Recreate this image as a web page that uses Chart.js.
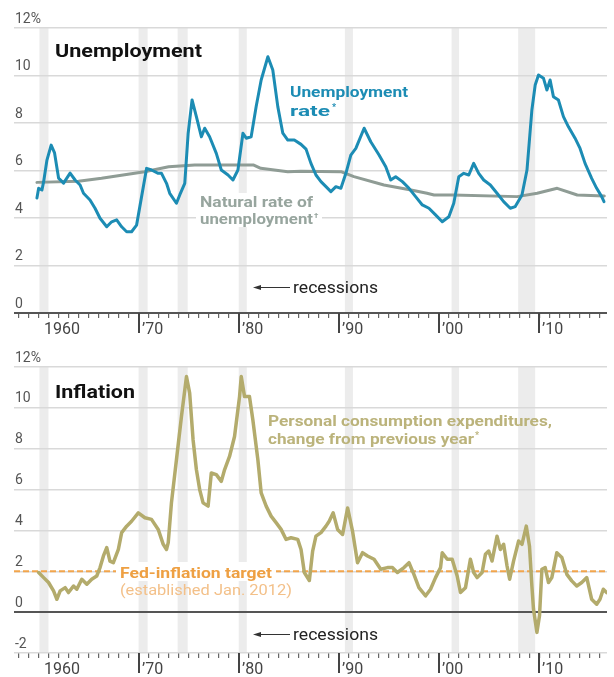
<!DOCTYPE html>
<html><head><meta charset="utf-8">
<script src="https://cdn.jsdelivr.net/npm/chart.js@4"></script>
<style>
html,body{margin:0;padding:0;background:#fff;}
#wrap{position:relative;width:614px;height:677px;overflow:hidden;background:#fff;}
canvas{position:absolute;left:0;}
#c1{top:0;}
#c2{top:340px;}
</style></head><body>
<div id="wrap"><canvas id="c1" width="614" height="340"></canvas><canvas id="c2" width="614" height="337"></canvas></div>
<script>
// ---------- DATA ----------
const unempYears = [1959.85,1960.02,1960.35,1960.52,1960.85,1961.27,1961.61,1962.01,1962.51,1963.16,1963.66,1964.16,1964.5,1965.15,1965.65,1966.15,1966.82,1967.31,1967.81,1968.31,1968.81,1969.3,1969.8,1970.3,1970.8,1971.29,1971.96,1972.29,1972.79,1973.11,1973.78,1974.11,1974.61,1974.95,1975.34,1975.77,1976.27,1976.6,1977.09,1977.76,1978.26,1978.93,1979.42,1979.92,1980.42,1980.75,1981.24,1981.74,1982.24,1982.91,1983.4,1983.9,1984.4,1984.9,1985.55,1986.22,1986.72,1987.21,1987.71,1988.21,1988.71,1989.2,1989.7,1990.2,1990.7,1991.19,1991.69,1992.52,1993.18,1994.01,1994.68,1995.17,1995.67,1996.34,1997.0,1997.66,1998.33,1998.99,1999.65,2000.32,2000.98,2001.47,2001.97,2002.47,2002.97,2003.46,2003.96,2004.46,2005.12,2005.79,2006.45,2007.11,2007.61,2008.28,2008.78,2009.27,2009.6,2009.93,2010.43,2010.77,2011.09,2011.42,2011.92,2012.42,2012.92,2013.58,2014.08,2014.58,2015.24,2015.74,2016.24,2016.47];
const unempValues = [4.84,5.25,5.18,5.53,6.44,7.07,6.74,5.68,5.47,5.89,5.6,5.39,5.04,4.76,4.41,3.99,3.63,3.84,3.92,3.63,3.42,3.42,3.7,4.9,6.09,6.02,5.88,5.88,5.46,5.04,4.62,4.97,5.46,7.57,8.97,8.27,7.42,7.78,7.42,6.72,6.02,5.81,5.6,6.02,7.57,7.36,7.42,8.69,9.81,10.79,10.23,8.69,7.57,7.28,7.28,7.1,6.9,6.3,5.81,5.53,5.32,5.11,5.32,5.25,5.88,6.65,6.93,7.78,7.21,6.65,6.16,5.6,5.74,5.53,5.25,4.9,4.55,4.41,4.13,3.84,4.05,4.62,5.74,5.88,5.81,6.3,5.88,5.6,5.39,5.04,4.69,4.41,4.48,4.97,6.02,8.55,9.6,10.02,9.88,9.39,9.81,9.11,8.97,8.27,7.84,7.36,6.93,6.3,5.67,5.25,4.9,4.69];

const naturalYears = [1959.85,1964.0,1966.3,1970.6,1973.0,1975.6,1981.5,1982.2,1984.9,1986.2,1990.2,1991.5,1994.5,1997.2,1998.8,1999.5,2001.4,2007.8,2009.8,2011.8,2013.8,2016.5];
const naturalValues = [5.5,5.55,5.67,5.95,6.16,6.23,6.23,6.09,5.95,5.97,5.95,5.74,5.39,5.18,5.04,4.97,4.97,4.9,5.04,5.25,4.97,4.93];

const inflYears = [1960.02,1960.52,1961.01,1961.51,1961.84,1962.17,1962.67,1963.0,1963.5,1963.83,1964.33,1964.83,1965.32,1965.82,1966.15,1966.49,1966.82,1967.14,1967.48,1967.98,1968.31,1968.81,1969.3,1969.97,1970.63,1971.29,1971.96,1972.46,1972.79,1972.96,1973.28,1973.78,1974.28,1974.78,1975.1,1975.44,1975.77,1976.1,1976.44,1976.94,1977.26,1977.76,1978.26,1978.59,1979.08,1979.58,1980.08,1980.25,1980.58,1981.07,1981.41,1981.91,1982.24,1982.74,1983.23,1983.73,1984.23,1984.73,1985.22,1985.89,1986.22,1986.55,1987.05,1987.38,1987.71,1988.21,1988.71,1989.03,1989.43,1989.87,1990.37,1990.87,1991.36,1991.86,1992.36,1992.86,1993.51,1994.18,1994.85,1995.34,1995.84,1996.5,1997.0,1997.49,1997.99,1998.66,1999.15,1999.65,2000.15,2000.32,2000.82,2001.31,2001.81,2002.14,2002.64,2003.13,2003.46,2003.8,2004.3,2004.63,2004.96,2005.29,2005.79,2006.12,2006.45,2006.79,2007.05,2007.44,2007.94,2008.28,2008.71,2009.03,2009.27,2009.43,2009.77,2010.03,2010.27,2010.6,2010.93,2011.26,2011.76,2012.26,2012.76,2013.25,2013.75,2014.25,2014.75,2015.24,2015.74,2016.07,2016.4,2016.73];
const inflValues = [1.94,1.69,1.45,1.04,0.63,1.04,1.2,0.96,1.28,1.12,1.61,1.37,1.61,1.77,2.18,2.75,3.16,2.5,2.42,3.07,3.89,4.21,4.45,4.86,4.62,4.54,4.05,3.32,3.07,3.4,5.35,7.46,9.58,11.53,10.72,8.44,6.98,6.0,5.35,5.19,6.81,6.73,6.4,6.98,7.62,8.6,10.55,11.53,10.55,10.55,9.41,7.46,5.84,5.19,4.7,4.38,4.05,3.56,3.64,3.56,3.07,1.94,1.55,2.99,3.72,3.89,4.21,4.45,4.86,4.05,3.8,5.1,3.97,2.42,2.91,2.75,2.59,2.1,2.18,2.18,1.94,2.18,2.42,1.85,1.2,0.8,1.12,1.69,2.18,2.91,2.59,2.59,1.77,0.96,1.2,2.59,1.94,1.69,1.94,2.83,2.99,2.5,3.72,3.07,3.32,2.26,1.61,2.5,3.48,3.32,4.21,3.23,1.28,0.15,-0.99,-0.18,2.1,2.18,1.45,1.69,2.91,2.67,1.85,1.53,1.28,1.45,1.69,0.63,0.39,0.63,1.12,0.96];

const targetYears = [1957.56, 2016.77];
const targetValues = [2, 2];

const recessionStarts = [1960.1,1970.0,1973.9,1980.0,1990.6,2001.25,2007.9];
const recessionEnds   = [1961.0,1970.9,1974.9,1980.8,1991.4,2002.0,2009.6];

const xTickYears  = [1960,1970,1980,1990,2000,2010];
const xTickLabels = ['1960','\u201970','\u201980','\u201990','\u201900','\u201910'];

// ---------- HELPERS ----------
function pts(xs, ys){ return xs.map((x,i)=>({x:x, y:ys[i]})); }

function fitText(ctx, text, x, y, font, color, width){
  ctx.save();
  ctx.font = font; ctx.fillStyle = color; ctx.textAlign='left'; ctx.textBaseline='alphabetic';
  const w = ctx.measureText(text).width;
  ctx.translate(x, y);
  if (width) ctx.scale(width / w, 1);
  ctx.fillText(text, 0, 0);
  ctx.restore();
}
function whiteBox(ctx, x, y, w, h){ ctx.save(); ctx.fillStyle='#fff'; ctx.fillRect(x,y,w,h); ctx.restore(); }
function recessArrow(ctx, y, baseline){
  ctx.save();
  ctx.strokeStyle='#333'; ctx.lineWidth=1;
  ctx.beginPath(); ctx.moveTo(258,y+0.5); ctx.lineTo(290,y+0.5); ctx.stroke();
  ctx.fillStyle='#333';
  ctx.beginPath(); ctx.moveTo(253,y+0.5); ctx.lineTo(261,y-2); ctx.lineTo(261,y+3); ctx.closePath(); ctx.fill();
  ctx.restore();
  fitText(ctx, 'recessions', 293, baseline, '16px Roboto', '#222', 85);
}

const bandsPlugin = {
  id: 'bands',
  beforeDraw(chart){
    const {ctx, chartArea:a, scales:{x}} = chart;
    ctx.save(); ctx.fillStyle = '#ececec';
    recessionStarts.forEach((s,i)=>{
      const x0 = x.getPixelForValue(s), x1 = x.getPixelForValue(recessionEnds[i]);
      ctx.fillRect(x0, a.top, x1-x0, a.bottom-a.top);
    });
    ctx.restore();
  }
};
const decadePlugin = {
  id: 'decades',
  afterDraw(chart){
    const {ctx, chartArea:a, scales:{x}} = chart;
    ctx.save();
    ctx.strokeStyle='#444'; ctx.lineWidth=2;
    ctx.fillStyle='#444'; ctx.font='16px Roboto'; ctx.textBaseline='middle'; ctx.textAlign='left';
    xTickYears.forEach((yr,i)=>{
      const px = Math.round(x.getPixelForValue(yr));
      const lbl = xTickLabels[i];
      if (lbl.length < 4){
        ctx.beginPath(); ctx.moveTo(px, a.bottom); ctx.lineTo(px, a.bottom+20); ctx.stroke();
        ctx.fillText(lbl, px+3, a.bottom+16.5);
      } else {
        ctx.fillText(lbl, px+6, a.bottom+16.5);
      }
    });
    ctx.restore();
  }
};

function baseOptions(yMin, yMax, pad, annot){
  return {
    responsive:false, animation:false, devicePixelRatio:1,
    layout:{padding:pad},
    plugins:{legend:{display:false}, tooltip:{enabled:false}, annot:{}},
    elements:{point:{radius:0}, line:{tension:0, borderJoinStyle:'round', borderCapStyle:'round'}},
    scales:{
      x:{type:'linear', min:1957.56, max:2016.77,
         border:{display:false},
         grid:{display:true, drawOnChartArea:false, drawTicks:true, tickLength:5, color:'#666', lineWidth:1.2},
         ticks:{display:false, stepSize:1, includeBounds:false}},
      y:{min:yMin, max:yMax,
         border:{display:false},
         grid:{drawTicks:false, color:(c)=> c.tick && c.tick.value===0 ? '#555' : '#d9d9d9',
               lineWidth:(c)=> c.tick && c.tick.value===0 ? 2 : 1.5},
         ticks:{stepSize:2, mirror:true, padding:1, labelOffset:-9, color:'#555',
                font:{family:'Roboto', size:14},
                callback:(v)=> v===12 ? '12%' : String(v)}}
    }
  };
}

// ---------- TOP: UNEMPLOYMENT ----------
const topAnnot = {
  id:'annot',
  afterDraw(chart){
    const ctx = chart.ctx;
    fitText(ctx, 'Unemployment', 55, 57, 'bold 19px Roboto', '#111', 147);
    fitText(ctx, 'Unemployment', 290, 97, 'bold 15px Roboto', '#1c8cb4', 118);
    fitText(ctx, 'rate', 290, 116, 'bold 15px Roboto', '#1c8cb4', 40);
    fitText(ctx, '*', 332, 110, 'bold 9px Roboto', '#1c8cb4');
    whiteBox(ctx, 196, 193, 126, 34);
    fitText(ctx, 'Natural rate of', 200, 207, 'bold 15px Roboto', '#97a59e', 113);
    fitText(ctx, 'unemployment', 200, 224, 'bold 15px Roboto', '#97a59e', 113);
    fitText(ctx, '\u2020', 314, 218, 'bold 8px Roboto', '#97a59e');
    recessArrow(ctx, 287, 293);
  }
};
new Chart(document.getElementById('c1'), {
  type:'line',
  data:{datasets:[
    {data:pts(unempYears, unempValues), borderColor:'#1c8cb4', borderWidth:3},
    {data:pts(naturalYears, naturalValues), borderColor:'#8f9c95', borderWidth:3}
  ]},
  options: baseOptions(0, 12, {top:28, bottom:22, left:12, right:7}),
  plugins:[bandsPlugin, decadePlugin, topAnnot]
});

// ---------- BOTTOM: INFLATION ----------
const botAnnot = {
  id:'annot',
  afterDraw(chart){
    const ctx = chart.ctx;
    fitText(ctx, 'Inflation', 55, 58, 'bold 19px Roboto', '#111', 80);
    fitText(ctx, 'Personal consumption expenditures,', 268, 86, 'bold 15px Roboto', '#bbb37b', 284);
    fitText(ctx, 'change from previous year', 268, 104, 'bold 15px Roboto', '#bbb37b', 206);
    fitText(ctx, '*', 475, 98, 'bold 9px Roboto', '#bbb37b');
    whiteBox(ctx, 116, 222, 160, 19);
    fitText(ctx, 'Fed-inflation target', 120, 238, 'bold 15px Roboto', '#eea043', 152);
    fitText(ctx, '(established Jan. 2012)', 120, 255, '15px Roboto', '#f3c089', 172);
    recessArrow(ctx, 294, 300);
  }
};
new Chart(document.getElementById('c2'), {
  type:'line',
  data:{datasets:[
    {data:pts(inflYears, inflValues), borderColor:'#b3ab6c', borderWidth:3.5},
    {data:pts(targetYears, targetValues), borderColor:'#f2a54c', borderWidth:2, borderDash:[6,3], borderCapStyle:'butt'}
  ]},
  options: baseOptions(-2, 12, {top:27, bottom:19, left:12, right:7}),
  plugins:[bandsPlugin, decadePlugin, botAnnot]
});
</script>
</body></html>
